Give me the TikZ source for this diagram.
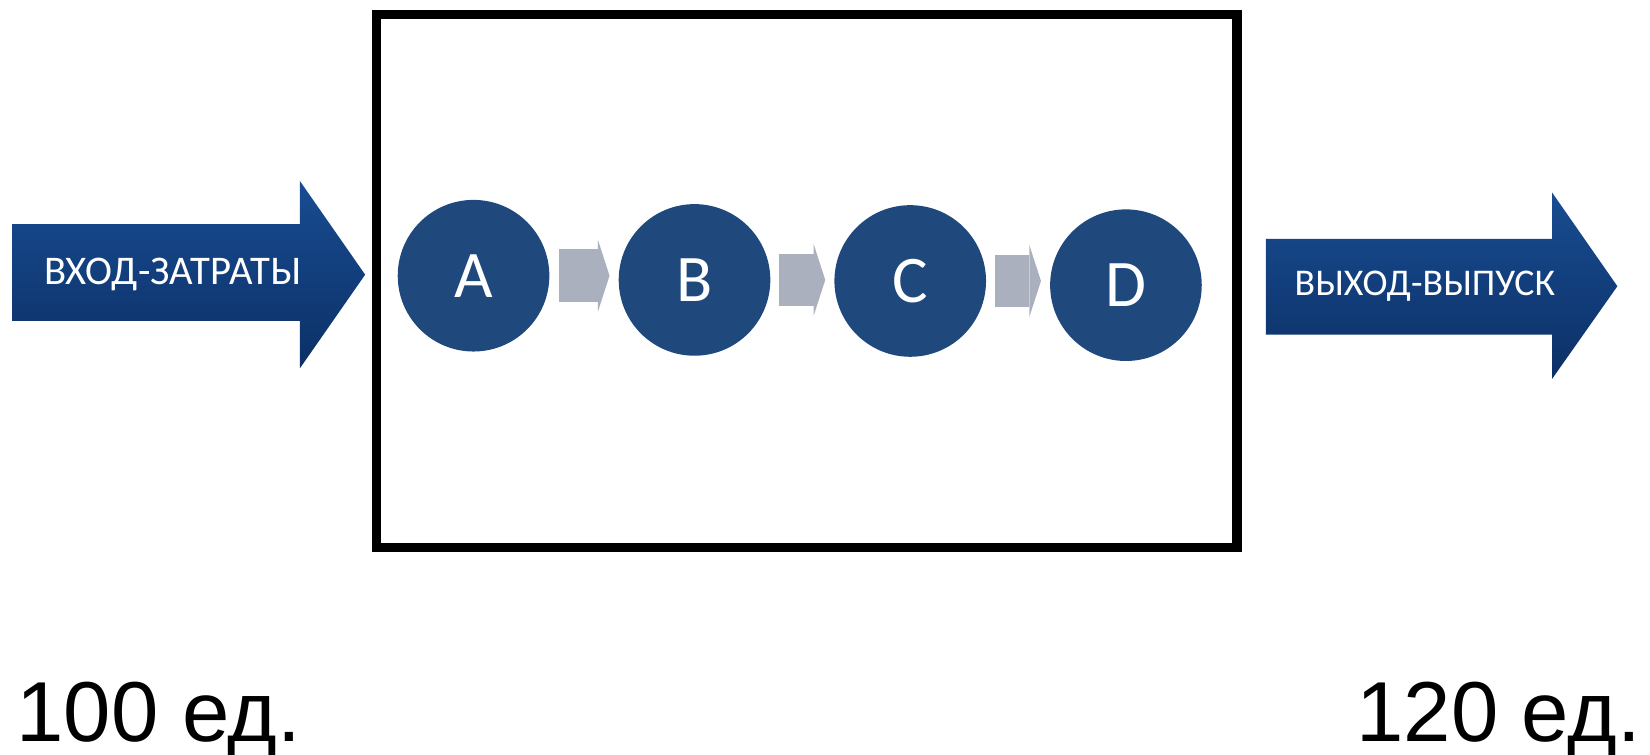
\documentclass[tikz,border=0pt]{standalone}
\usepackage{fontspec}
\setmainfont{Liberation Sans}
\newfontfamily\calibrifont{Carlito}
\usetikzlibrary{arrows.meta,positioning}
\definecolor{stageblue}{RGB}{31,73,125}
\definecolor{flowgray}{RGB}{170,176,190}
\definecolor{arrowtop}{RGB}{24,76,145}
\definecolor{arrowbottom}{RGB}{12,48,102}

\begin{document}
\begin{tikzpicture}[x=0.01cm, y=-0.01cm,
    stage/.style={circle, fill=stageblue, minimum size=1.44cm, inner sep=0pt, text=white,
        font=\calibrifont\fontsize{18}{18}\selectfont},
    flow/.style={flowgray, line width=0.5cm, shorten <=0.08cm, shorten >=0.08cm,
        -{Triangle[length=0.11cm, width=0.68cm, line width=0pt]}},
    bigarrow/.style={top color=arrowtop, bottom color=arrowbottom},
    arrowtext/.style={text=white, font=\calibrifont\fontsize{11}{11}\selectfont},
    amount/.style={inner sep=0pt, font=\fontsize{23}{23}\selectfont}]
    \useasboundingbox (0,0) rectangle (1568,717);
    \node (box) [draw, line width=2.6pt, minimum width=8.17cm, minimum height=5.06cm] at (766.5,267) {};
    \node (A) [stage] at (450,262) {A};
    \node (B) [stage] at (660,266) {B};
    \node (C) [stage] at (865,267) {C};
    \node (D) [stage] at (1070,271) {D};
    \draw[flow] (A.east) -- (A.east -| B.west);
    \draw[flow] (B.east) -- (B.east -| C.west);
    \draw[flow] (C.east) -- (C.east -| D.west);
    \shade[bigarrow] (12,213) -- (285,213) -- (285,172) -- (347,261) -- (285,350) -- (285,305) -- (12,305) -- cycle;
    \node (input) [arrowtext] at (164,261) {ВХОД-ЗАТРАТЫ};
    \shade[bigarrow] (1203,227) -- (1475,227) -- (1475,183) -- (1537,272) -- (1475,360) -- (1475,318) -- (1203,318) -- cycle;
    \node (output) [arrowtext, font=\calibrifont\fontsize{10.2}{10.2}\selectfont] at (1354,272) {ВЫХОД-ВЫПУСК};
    \node (cost) [amount, anchor=base west] at (15,705) {100 ед.};
    \node (yield) [amount, anchor=base east] at (1560,705) {120 ед.};
\end{tikzpicture}
\end{document}
